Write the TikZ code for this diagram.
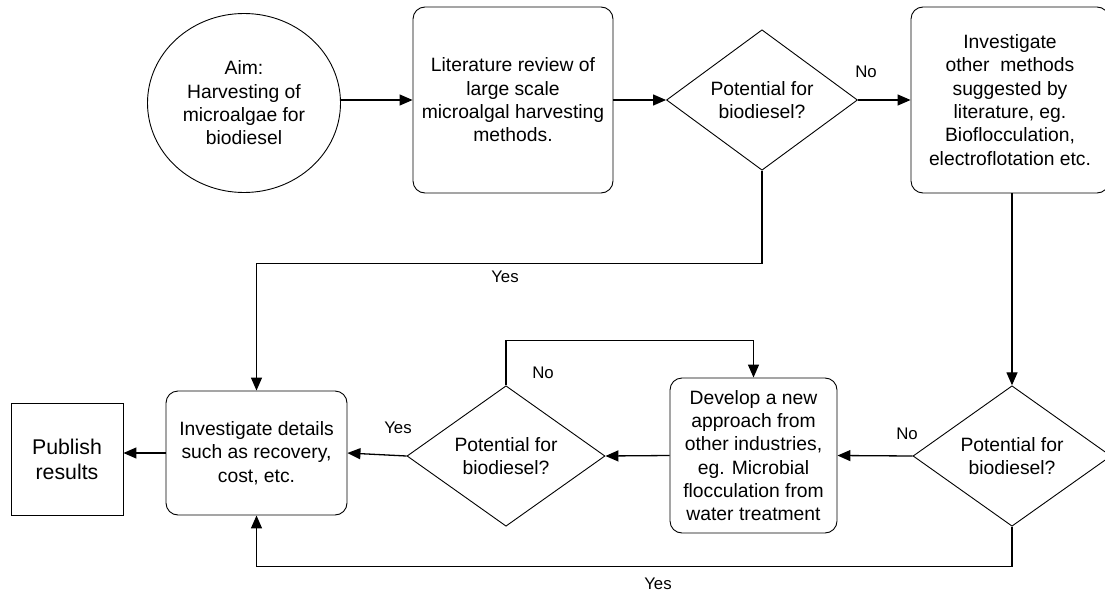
\documentclass[tikz,border=0pt]{standalone}
\usepackage{fontspec}
\setmainfont{Liberation Sans}
\usetikzlibrary{shapes.geometric,arrows.meta}

\begin{document}
\begin{tikzpicture}[x=1pt, y=-1pt,
  box/.style={draw, rounded corners=12pt, line width=0.9pt, align=center, inner sep=0pt, font=\fontsize{19.3}{23.3}\selectfont},
  decision/.style={draw, diamond, line width=0.9pt, align=center, inner sep=0pt, font=\fontsize{19.3}{23.3}\selectfont},
  arr/.style={-{Triangle[length=13pt,width=11pt]}, line width=1.3pt},
  lbl/.style={inner sep=0pt, font=\fontsize{16.8}{19}\selectfont}]
  \useasboundingbox (0,0) rectangle (1105,594);

  \node[draw, ellipse, line width=0.9pt, minimum width=193pt, minimum height=179pt, align=center, inner sep=0pt, font=\fontsize{19.3}{23.3}\selectfont] (aim) at (244,103) {Aim:\\Harvesting of\\microalgae for\\biodiesel};
  \node[box, minimum width=200pt, minimum height=186pt] (lit) at (513,100) {Literature review of\\large scale\\microalgal harvesting\\methods.};
  \node[decision, minimum width=191pt, minimum height=124pt] (dec1) at (762,100) {Potential for\\biodiesel?};
  \node[box, minimum width=198pt, minimum height=186pt] (other) at (1010,100) {Investigate\\other\ \ methods\\suggested by\\literature, eg.\\Bioflocculation,\\electroflotation etc.};
  \node[decision, minimum width=198pt, minimum height=128pt] (dec3) at (1012,456) {Potential for\\biodiesel?};
  \node[box, minimum width=167pt, minimum height=155pt] (newapp) at (753.5,455.5) {Develop a new\\approach from\\other industries,\\eg. Microbial\\flocculation from\\water treatment};
  \node[decision, minimum width=198pt, minimum height=118pt] (dec2) at (506,456) {Potential for\\biodiesel?};
  \node[box, minimum width=181pt, minimum height=124pt] (details) at (256.5,453) {Investigate details\\such as recovery,\\cost, etc.};
  \node[draw, line width=0.9pt, minimum width=112pt, minimum height=112pt, align=center, inner sep=0pt, font=\fontsize{21.3}{25}\selectfont] (pub) at (67,459) {Publish\\results};

  % top row
  \draw[arr] (aim.east |- lit.west) -- (lit.west);
  \draw[arr] (lit.east) -- (dec1.west);
  \draw[arr] (dec1.east) -- (other.west);
  \node[lbl] (no1) at (866,72) {No};
  \draw[arr] (dec1.south) -- ++(0,93) -| (details.north);
  \node[lbl] (yes1) at (505,277) {Yes};

  % right side
  \draw[arr] (other.south -| dec3.north) -- (dec3.north);
  \draw[arr] (dec3.west) -- (newapp.east);
  \node[lbl] (no3) at (907,434) {No};
  \draw[arr] (dec3.south) -- ++(0,40) -| (details.south);
  \node[lbl] (yes3) at (658,584) {Yes};

  % bottom row
  \draw[arr] (newapp.west) -- (dec2.east);
  \draw[arr] (dec2.west) -- (details.east);
  \node[lbl] (yes2) at (398,428) {Yes};
  \draw[arr] (dec2.north) -- ++(0,-45) -| (newapp.north);
  \node[lbl] (no2) at (543,373) {No};
  \draw[arr] (details.west) -- (details.west -| pub.east);
\end{tikzpicture}
\end{document}
